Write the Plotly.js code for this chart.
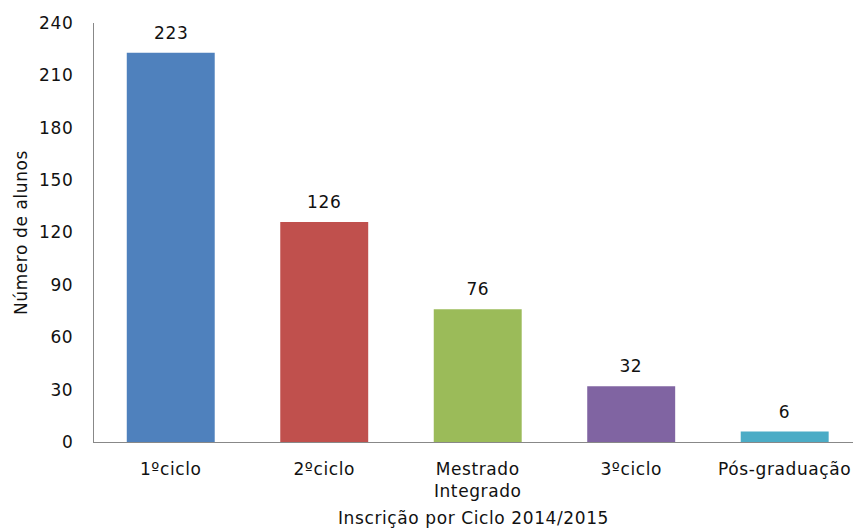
<!DOCTYPE html>
<html>
<head>
<meta charset="utf-8">
<script src="https://cdn.plot.ly/plotly-3.0.1.min.js"></script>
<style>
html,body{margin:0;padding:0;background:#fff;}
#chart{width:853px;height:528px;}
#chart text{letter-spacing:0.6px;}
</style>
</head>
<body>
<div id="chart"></div>
<script>
const categories = ["1ºciclo", "2ºciclo", "Mestrado<br>Integrado", "3ºciclo", "Pós-graduação"];
const values = [223, 126, 76, 32, 6];
const barColors = ["#4F81BD", "#C0504D", "#9BBB59", "#8064A2", "#4BACC6"];
const yTicks = [0, 30, 60, 90, 120, 150, 180, 210, 240];

const fontFam = "'DejaVu Sans', 'Open Sans', sans-serif";
const txtColor = "#111";
const fs = 17;

const trace = {
  type: "bar",
  x: categories,
  y: values,
  marker: { color: barColors },
  width: 0.573,
  hoverinfo: "none"
};

const annotations = categories.map((c, i) => ({
  x: c, y: values[i], xref: "x", yref: "y",
  text: String(values[i]), showarrow: false,
  yshift: 20, font: { family: fontFam, size: fs, color: txtColor }
}));

const layout = {
  width: 853, height: 528,
  margin: { l: 94, r: 0, t: 23, b: 86 },
  paper_bgcolor: "#fff", plot_bgcolor: "#fff",
  showlegend: false,
  font: { family: fontFam, size: fs, color: txtColor },
  xaxis: {
    type: "category",
    range: [-0.5, 4.445],
    showline: true, linecolor: "#888", linewidth: 1.3,
    ticks: "", showgrid: false, zeroline: false,
    ticklabelstandoff: 11,
    tickfont: { family: fontFam, size: fs, color: txtColor },
    title: { text: "Inscrição por Ciclo 2014/2015", font: { family: fontFam, size: fs, color: txtColor }, standoff: 12 }
  },
  yaxis: {
    range: [0, 240],
    tickvals: yTicks,
    showline: true, linecolor: "#888", linewidth: 1.3,
    ticks: "", showgrid: false, zeroline: false,
    ticklabelstandoff: 16,
    tickfont: { family: fontFam, size: fs, color: txtColor },
    title: { text: "Número de alunos", font: { family: fontFam, size: fs, color: txtColor }, standoff: 9 }
  },
  annotations: annotations
};

Plotly.newPlot("chart", [trace], layout, { staticPlot: true, displayModeBar: false });
</script>
</body>
</html>
